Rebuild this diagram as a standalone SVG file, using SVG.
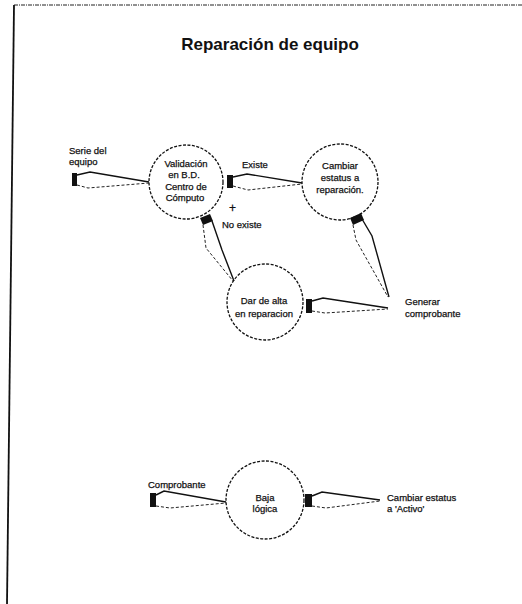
<svg xmlns="http://www.w3.org/2000/svg" width="522" height="604" viewBox="0 0 522 604">
<style>
  text { font-family: "Liberation Sans", Arial, sans-serif; fill: #111; }
  .title { font-size: 17px; font-weight: bold; }
  .lbl { font-size: 9.5px; stroke: #111; stroke-width: 0.25; }
  .ctr { text-anchor: middle; }
  .node { fill: none; stroke: #111; stroke-width: 1.3; stroke-dasharray: 3 1.5; }
  .solid { fill: none; stroke: #111; stroke-width: 1.4; }
  .dash { fill: none; stroke: #222; stroke-width: 1; stroke-dasharray: 3 2; }
  .blk { fill: #111; stroke: none; }
</style>
<rect width="522" height="604" fill="#ffffff"/>
<g id="frame">
  <line x1="14" y1="5" x2="522" y2="5" stroke="#222" stroke-width="1" stroke-dasharray="4 1 1 1"/>
  <line x1="14" y1="5" x2="7" y2="604" stroke="#111" stroke-width="1.8"/>
</g>
<text class="title ctr" x="270" y="50">Reparación de equipo</text>

<g id="connectors">
  <g id="c-serie">
    <rect class="blk" x="72" y="173" width="5" height="13"/>
    <path class="solid" d="M77,175 L90,172 L149,182"/>
    <path class="dash" d="M77,185 L88,188 L149,183"/>
  </g>
  <g id="c-existe">
    <rect class="blk" x="227" y="175" width="6" height="13"/>
    <path class="solid" d="M233,177 L247,174 L302,183"/>
    <path class="dash" d="M233,186 L248,190 L302,184"/>
  </g>
  <g id="c-noexiste">
    <polygon class="blk" points="200,218 210,214 213,221 203,225"/>
    <path class="dash" d="M203,225 L206,248 L233,281"/>
    <path class="solid" d="M212,221 L222,250 L234,281"/>
  </g>
  <g id="c-generar-cambiar">
    <polygon class="blk" points="350,218 361,213 364,220 353,225"/>
    <path class="dash" d="M353,225 L356,240 L388,297"/>
    <path class="solid" d="M362,219 L372,236 L389,297"/>
  </g>
  <g id="c-generar-alta">
    <rect class="blk" x="306" y="299" width="6" height="14"/>
    <path class="solid" d="M312,301 L323,298 L388,308"/>
    <path class="dash" d="M312,311 L325,313 L388,309"/>
  </g>
  <g id="c-comprobante">
    <rect class="blk" x="150" y="493" width="6" height="14"/>
    <path class="solid" d="M156,495 L164,491 L226,502"/>
    <path class="dash" d="M156,506 L170,508 L226,503"/>
  </g>
  <g id="c-activo">
    <rect class="blk" x="305" y="494" width="7" height="13"/>
    <path class="solid" d="M312,496 L322,492 L380,500"/>
    <path class="dash" d="M312,506 L326,508 L380,501"/>
  </g>
</g>

<g id="n-validacion">
  <circle class="node" cx="186" cy="182" r="37"/>
  <text class="lbl ctr" x="186" y="167">Validación</text>
  <text class="lbl ctr" x="184" y="178">en B.D.</text>
  <text class="lbl ctr" x="186" y="190">Centro de</text>
  <text class="lbl ctr" x="185" y="201">Cómputo</text>
</g>
<g id="n-cambiar">
  <circle class="node" cx="340" cy="182" r="38"/>
  <text class="lbl ctr" x="340" y="169">Cambiar</text>
  <text class="lbl ctr" x="340" y="181">estatus a</text>
  <text class="lbl ctr" x="340" y="193">reparación.</text>
</g>
<g id="n-alta">
  <circle class="node" cx="265" cy="302" r="38"/>
  <text class="lbl ctr" x="264" y="304">Dar de alta</text>
  <text class="lbl ctr" x="264" y="317">en reparacion</text>
</g>
<g id="n-baja">
  <circle class="node" cx="265" cy="500" r="39"/>
  <text class="lbl ctr" x="265" y="501">Baja</text>
  <text class="lbl ctr" x="265" y="512">lógica</text>
</g>

<g id="labels">
  <text class="lbl" x="69" y="154">Serie del</text>
  <text class="lbl" x="69" y="165">equipo</text>
  <text class="lbl" x="242" y="168">Existe</text>
  <text class="lbl" x="229" y="212" style="font-size:12px">+</text>
  <text class="lbl" x="222" y="228">No existe</text>
  <text class="lbl" x="405" y="305">Generar</text>
  <text class="lbl" x="405" y="317">comprobante</text>
  <text class="lbl" x="148" y="488">Comprobante</text>
  <text class="lbl" x="387" y="501">Cambiar estatus</text>
  <text class="lbl" x="387" y="512">a 'Activo'</text>
</g>
</svg>
